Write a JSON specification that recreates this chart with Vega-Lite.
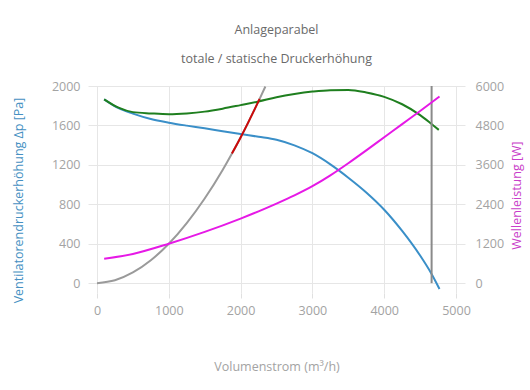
{
  "$schema": "https://vega.github.io/schema/vega-lite/v6.json",
  "width": 377,
  "height": 207,
  "autosize": {"type": "none"},
  "padding": {"left": 88, "top": 86, "right": 65, "bottom": 97},
  "background": "white",
  "config": {
    "font": "Open Sans",
    "view": {"stroke": null},
    "axis": {
      "labelColor": "#a3a3a3",
      "labelFontSize": 12.5,
      "labelFont": "Open Sans",
      "titleFont": "Open Sans",
      "titleFontWeight": "normal",
      "titleFontSize": 12.5,
      "gridColor": "#e6e6e6",
      "gridWidth": 1,
      "domain": false
    }
  },
  "title": {
    "text": "Anlageparabel",
    "subtitle": "totale / statische Druckerhöhung",
    "font": "Open Sans",
    "subtitleFont": "Open Sans",
    "fontSize": 12.5,
    "fontWeight": "normal",
    "color": "#6a6a6a",
    "subtitleColor": "#6a6a6a",
    "subtitleFontSize": 12.5,
    "subtitlePadding": 16,
    "offset": 15,
    "anchor": "middle"
  },
  "datasets": {
    "parabel": [
      {"q": 0, "p": 0}, {"q": 250, "p": 29}, {"q": 500, "p": 108}, {"q": 750, "p": 232},
      {"q": 1000, "p": 400}, {"q": 1250, "p": 610}, {"q": 1500, "p": 859}, {"q": 1750, "p": 1149},
      {"q": 1880, "p": 1316}, {"q": 2000, "p": 1478}, {"q": 2100, "p": 1621}, {"q": 2200, "p": 1770},
      {"q": 2265, "p": 1870}, {"q": 2345, "p": 1995}
    ],
    "betrieb": [
      {"q": 1880, "p": 1316}, {"q": 2000, "p": 1478}, {"q": 2100, "p": 1621}, {"q": 2200, "p": 1770},
      {"q": 2265, "p": 1870}
    ],
    "statisch": [
      {"q": 100, "p": 1865}, {"q": 300, "p": 1775}, {"q": 500, "p": 1720}, {"q": 750, "p": 1665},
      {"q": 1000, "p": 1628}, {"q": 1250, "p": 1598}, {"q": 1500, "p": 1571}, {"q": 1750, "p": 1541},
      {"q": 2000, "p": 1512}, {"q": 2250, "p": 1485}, {"q": 2500, "p": 1455}, {"q": 2750, "p": 1398},
      {"q": 3000, "p": 1318}, {"q": 3250, "p": 1205}, {"q": 3500, "p": 1070}, {"q": 3750, "p": 920},
      {"q": 4000, "p": 745}, {"q": 4250, "p": 530}, {"q": 4500, "p": 280}, {"q": 4650, "p": 105},
      {"q": 4770, "p": -60}
    ],
    "total": [
      {"q": 100, "p": 1865}, {"q": 300, "p": 1780}, {"q": 500, "p": 1735}, {"q": 750, "p": 1722},
      {"q": 1000, "p": 1714}, {"q": 1250, "p": 1722}, {"q": 1500, "p": 1740}, {"q": 1750, "p": 1770},
      {"q": 2000, "p": 1806}, {"q": 2250, "p": 1843}, {"q": 2500, "p": 1885}, {"q": 2750, "p": 1918},
      {"q": 3000, "p": 1943}, {"q": 3250, "p": 1958}, {"q": 3500, "p": 1960}, {"q": 3750, "p": 1935},
      {"q": 4000, "p": 1890}, {"q": 4250, "p": 1815}, {"q": 4500, "p": 1705}, {"q": 4650, "p": 1620},
      {"q": 4760, "p": 1555}
    ],
    "grenze": [
      {"q": 4660, "p": 0, "p2": 2000}
    ],
    "leistung": [
      {"q": 100, "w": 740}, {"q": 500, "w": 890}, {"q": 1000, "w": 1200}, {"q": 1500, "w": 1560},
      {"q": 2000, "w": 1965}, {"q": 2250, "w": 2185}, {"q": 2500, "w": 2420}, {"q": 2750, "w": 2670},
      {"q": 3000, "w": 2950}, {"q": 3250, "w": 3280}, {"q": 3500, "w": 3650}, {"q": 3750, "w": 4040},
      {"q": 4000, "w": 4440}, {"q": 4250, "w": 4840}, {"q": 4500, "w": 5240}, {"q": 4770, "w": 5680}
    ]
  },
  "layer": [
    {
      "encoding": {
        "x": {
          "field": "q",
          "type": "quantitative",
          "scale": {"domain": [-125, 5125], "nice": false, "zero": false},
          "axis": {
            "values": [0, 500, 1000, 1500, 2000, 2500, 3000, 3500, 4000, 4500, 5000],
            "labelExpr": "datum.value % 1000 === 0 ? datum.label : ''",
            "format": "d",
            "grid": true,
            "ticks": true,
            "tickColor": "#e0e0e0",
            "tickSize": 5,
            "labelPadding": 6,
            "title": "Volumenstrom (m³/h)",
            "titleColor": "#a3a3a3",
            "titlePadding": 44
          }
        },
        "y": {
          "field": "p",
          "type": "quantitative",
          "scale": {"domain": [-100, 2000], "nice": false, "zero": false},
          "axis": {
            "values": [0, 400, 800, 1200, 1600, 2000],
            "format": "d",
            "grid": true,
            "ticks": false,
            "labelPadding": 8,
            "title": "Ventilatorendruckerhöhung Δp [Pa]",
            "titleColor": "#4590c2",
            "titlePadding": 26,
            "titleY": 114
          }
        }
      },
      "layer": [
        {"data": {"name": "parabel"}, "mark": {"type": "line", "color": "#9a9a9a", "strokeWidth": 2, "interpolate": "monotone"}},
        {"data": {"name": "statisch"}, "mark": {"type": "line", "color": "#3a8fc8", "strokeWidth": 2, "interpolate": "monotone"}},
        {"data": {"name": "total"}, "mark": {"type": "line", "color": "#1f7f1f", "strokeWidth": 2, "interpolate": "monotone"}},
        {"data": {"name": "betrieb"}, "mark": {"type": "line", "color": "#cc0a0a", "strokeWidth": 2, "interpolate": "monotone"}},
        {"data": {"name": "grenze"}, "mark": {"type": "rule", "color": "#8a8a8a", "strokeWidth": 2}, "encoding": {"y2": {"field": "p2"}}}
      ]
    },
    {
      "data": {"name": "leistung"},
      "mark": {"type": "line", "color": "#e619e6", "strokeWidth": 2, "interpolate": "monotone"},
      "encoding": {
        "x": {"field": "q", "type": "quantitative"},
        "y": {
          "field": "w",
          "type": "quantitative",
          "scale": {"domain": [-300, 6000], "nice": false, "zero": false},
          "axis": {
            "orient": "right",
            "values": [0, 1200, 2400, 3600, 4800, 6000],
            "format": "d",
            "grid": false,
            "ticks": false,
            "labelPadding": 10,
            "title": "Wellenleistung [W]",
            "titleColor": "#c93ec9",
            "titleAngle": 270,
            "titlePadding": 20,
            "titleY": 109
          }
        }
      }
    }
  ],
  "resolve": {"scale": {"y": "independent"}}
}
